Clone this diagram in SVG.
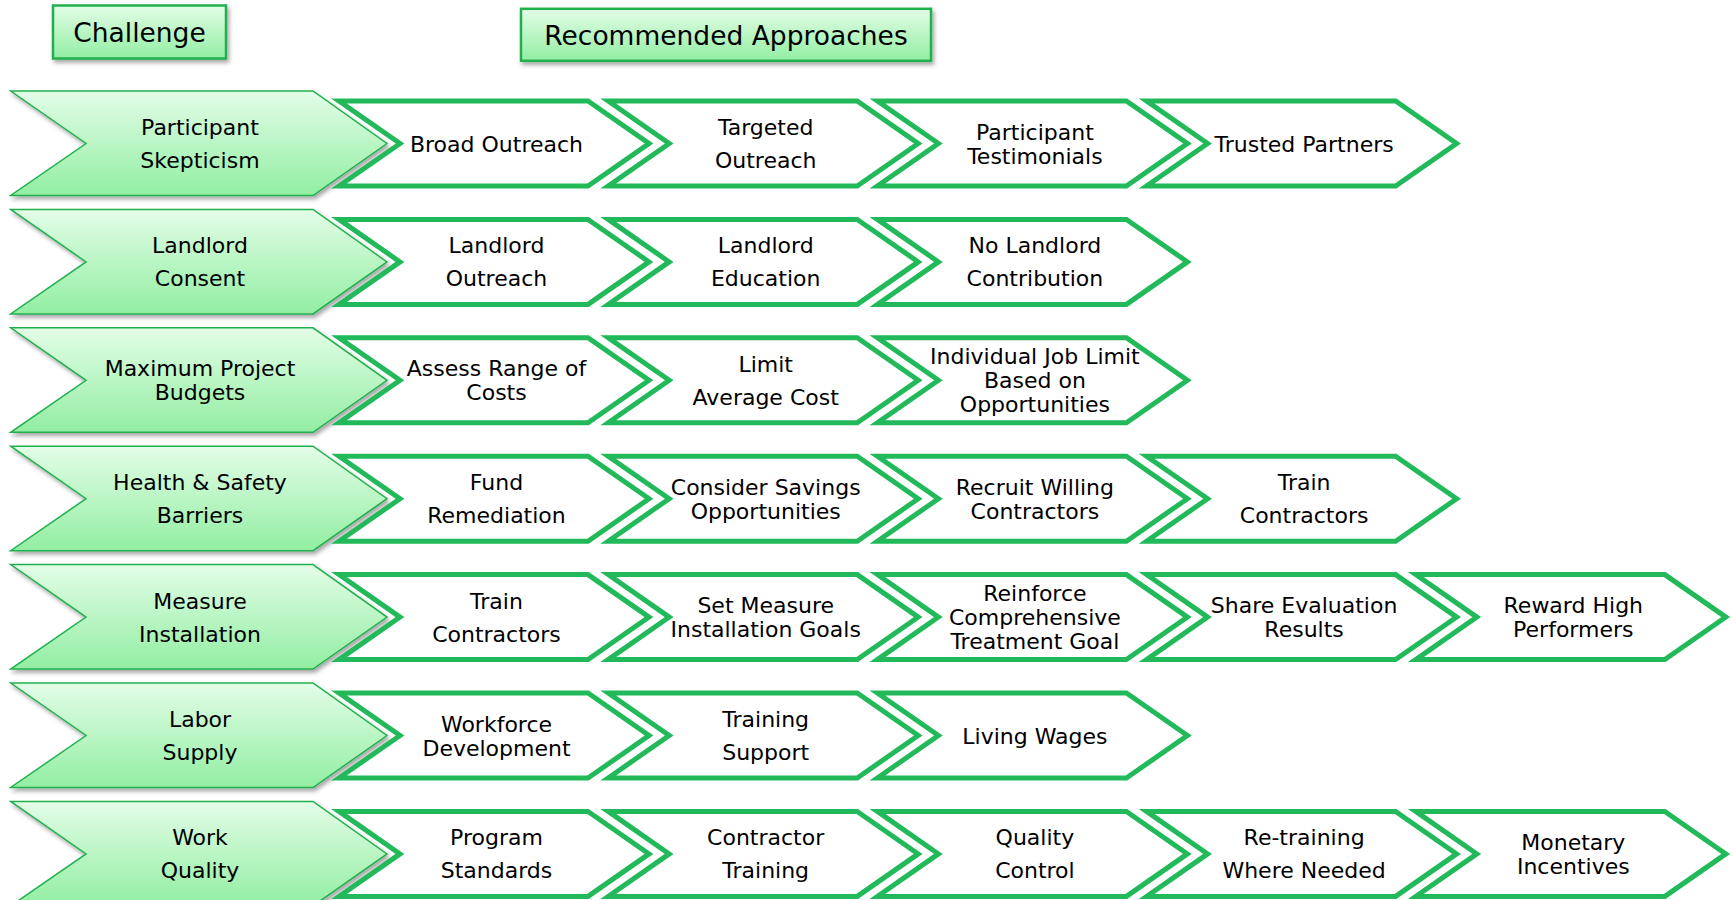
<svg xmlns="http://www.w3.org/2000/svg" width="1732" height="900" viewBox="0 0 1732 900">
<defs>
<linearGradient id="gfill" x1="0" y1="0" x2="0" y2="1">
<stop offset="0" stop-color="#e3fde7"/>
<stop offset="1" stop-color="#92eea2"/>
</linearGradient>
<filter id="shadow" x="-10%" y="-10%" width="130%" height="140%">
<feDropShadow dx="2" dy="3" stdDeviation="2" flood-color="#000" flood-opacity="0.35"/>
</filter>
<path id="chal" d="M10.7,0 L313,0 L387,52.5 L313,104.5 L10.7,104.5 L86,52.5 Z"/>
<path id="appr" d="M0,10 L249,10 L310,52.5 L249,95 L0,95 L61,52.5 Z"/>
</defs>
<style>
.hdr{fill:url(#gfill);stroke:#22b050;stroke-width:2.5;filter:url(#shadow)}
.ch{fill:url(#gfill);stroke:#22b050;stroke-width:1.5;filter:url(#shadow)}
.ap{fill:#ffffff;stroke:#21b95a;stroke-width:5;stroke-linejoin:miter;stroke-miterlimit:10}
text{font-family:"DejaVu Sans",Verdana,sans-serif;font-size:22px;fill:#000;text-anchor:middle}
.ht{font-size:26.5px}
</style>
<rect width="1732" height="900" fill="#ffffff"/>

<g id="hdr-challenge"><rect class="hdr" x="53" y="5.5" width="173" height="53"/><text class="ht" x="139.5" y="41.5">Challenge</text></g>
<g id="hdr-approaches"><rect class="hdr" x="521" y="8.8" width="410" height="52"/><text class="ht" x="726" y="44.5">Recommended Approaches</text></g>

<!-- Row 0 -->
<g id="c0"><use href="#chal" class="ch" x="0" y="91"/><text x="200" y="135">Participant</text><text x="200" y="168">Skepticism</text></g>
<g id="a0-0"><use href="#appr" class="ap" x="339" y="91"/><text x="496.5" y="151.5">Broad Outreach</text></g>
<g id="a0-1"><use href="#appr" class="ap" x="608.2" y="91"/><text x="765.7" y="135">Targeted</text><text x="765.7" y="168">Outreach</text></g>
<g id="a0-2"><use href="#appr" class="ap" x="877.4" y="91"/><text x="1034.9" y="139.5">Participant</text><text x="1034.9" y="163.5">Testimonials</text></g>
<g id="a0-3"><use href="#appr" class="ap" x="1146.6" y="91"/><text x="1304.1" y="151.5">Trusted Partners</text></g>

<!-- Row 1 -->
<g id="c1"><use href="#chal" class="ch" x="0" y="209.4"/><text x="200" y="253.4">Landlord</text><text x="200" y="286.4">Consent</text></g>
<g id="a1-0"><use href="#appr" class="ap" x="339" y="209.4"/><text x="496.5" y="253.4">Landlord</text><text x="496.5" y="286.4">Outreach</text></g>
<g id="a1-1"><use href="#appr" class="ap" x="608.2" y="209.4"/><text x="765.7" y="253.4">Landlord</text><text x="765.7" y="286.4">Education</text></g>
<g id="a1-2"><use href="#appr" class="ap" x="877.4" y="209.4"/><text x="1034.9" y="253.4">No Landlord</text><text x="1034.9" y="286.4">Contribution</text></g>

<!-- Row 2 -->
<g id="c2"><use href="#chal" class="ch" x="0" y="327.8"/><text x="200" y="376.3">Maximum Project</text><text x="200" y="400.3">Budgets</text></g>
<g id="a2-0"><use href="#appr" class="ap" x="339" y="327.8"/><text x="496.5" y="376.3">Assess Range of</text><text x="496.5" y="400.3">Costs</text></g>
<g id="a2-1"><use href="#appr" class="ap" x="608.2" y="327.8"/><text x="765.7" y="371.8">Limit</text><text x="765.7" y="404.8">Average Cost</text></g>
<g id="a2-2"><use href="#appr" class="ap" x="877.4" y="327.8"/><text x="1034.9" y="364.3">Individual Job Limit</text><text x="1034.9" y="388.3">Based on</text><text x="1034.9" y="412.3">Opportunities</text></g>

<!-- Row 3 -->
<g id="c3"><use href="#chal" class="ch" x="0" y="446.2"/><text x="200" y="490.2">Health &amp; Safety</text><text x="200" y="523.2">Barriers</text></g>
<g id="a3-0"><use href="#appr" class="ap" x="339" y="446.2"/><text x="496.5" y="490.2">Fund</text><text x="496.5" y="523.2">Remediation</text></g>
<g id="a3-1"><use href="#appr" class="ap" x="608.2" y="446.2"/><text x="765.7" y="494.7">Consider Savings</text><text x="765.7" y="518.7">Opportunities</text></g>
<g id="a3-2"><use href="#appr" class="ap" x="877.4" y="446.2"/><text x="1034.9" y="494.7">Recruit Willing</text><text x="1034.9" y="518.7">Contractors</text></g>
<g id="a3-3"><use href="#appr" class="ap" x="1146.6" y="446.2"/><text x="1304.1" y="490.2">Train</text><text x="1304.1" y="523.2">Contractors</text></g>

<!-- Row 4 -->
<g id="c4"><use href="#chal" class="ch" x="0" y="564.6"/><text x="200" y="608.6">Measure</text><text x="200" y="641.6">Installation</text></g>
<g id="a4-0"><use href="#appr" class="ap" x="339" y="564.6"/><text x="496.5" y="608.6">Train</text><text x="496.5" y="641.6">Contractors</text></g>
<g id="a4-1"><use href="#appr" class="ap" x="608.2" y="564.6"/><text x="765.7" y="613.1">Set Measure</text><text x="765.7" y="637.1">Installation Goals</text></g>
<g id="a4-2"><use href="#appr" class="ap" x="877.4" y="564.6"/><text x="1034.9" y="601.1">Reinforce</text><text x="1034.9" y="625.1">Comprehensive</text><text x="1034.9" y="649.1">Treatment Goal</text></g>
<g id="a4-3"><use href="#appr" class="ap" x="1146.6" y="564.6"/><text x="1304.1" y="613.1">Share Evaluation</text><text x="1304.1" y="637.1">Results</text></g>
<g id="a4-4"><use href="#appr" class="ap" x="1415.8" y="564.6"/><text x="1573.3" y="613.1">Reward High</text><text x="1573.3" y="637.1">Performers</text></g>

<!-- Row 5 -->
<g id="c5"><use href="#chal" class="ch" x="0" y="683"/><text x="200" y="727">Labor</text><text x="200" y="760">Supply</text></g>
<g id="a5-0"><use href="#appr" class="ap" x="339" y="683"/><text x="496.5" y="731.5">Workforce</text><text x="496.5" y="755.5">Development</text></g>
<g id="a5-1"><use href="#appr" class="ap" x="608.2" y="683"/><text x="765.7" y="727">Training</text><text x="765.7" y="760">Support</text></g>
<g id="a5-2"><use href="#appr" class="ap" x="877.4" y="683"/><text x="1034.9" y="743.5">Living Wages</text></g>

<!-- Row 6 -->
<g id="c6"><use href="#chal" class="ch" x="0" y="801.4"/><text x="200" y="845.4">Work</text><text x="200" y="878.4">Quality</text></g>
<g id="a6-0"><use href="#appr" class="ap" x="339" y="801.4"/><text x="496.5" y="845.4">Program</text><text x="496.5" y="878.4">Standards</text></g>
<g id="a6-1"><use href="#appr" class="ap" x="608.2" y="801.4"/><text x="765.7" y="845.4">Contractor</text><text x="765.7" y="878.4">Training</text></g>
<g id="a6-2"><use href="#appr" class="ap" x="877.4" y="801.4"/><text x="1034.9" y="845.4">Quality</text><text x="1034.9" y="878.4">Control</text></g>
<g id="a6-3"><use href="#appr" class="ap" x="1146.6" y="801.4"/><text x="1304.1" y="845.4">Re-training</text><text x="1304.1" y="878.4">Where Needed</text></g>
<g id="a6-4"><use href="#appr" class="ap" x="1415.8" y="801.4"/><text x="1573.3" y="849.9">Monetary</text><text x="1573.3" y="873.9">Incentives</text></g>
</svg>
